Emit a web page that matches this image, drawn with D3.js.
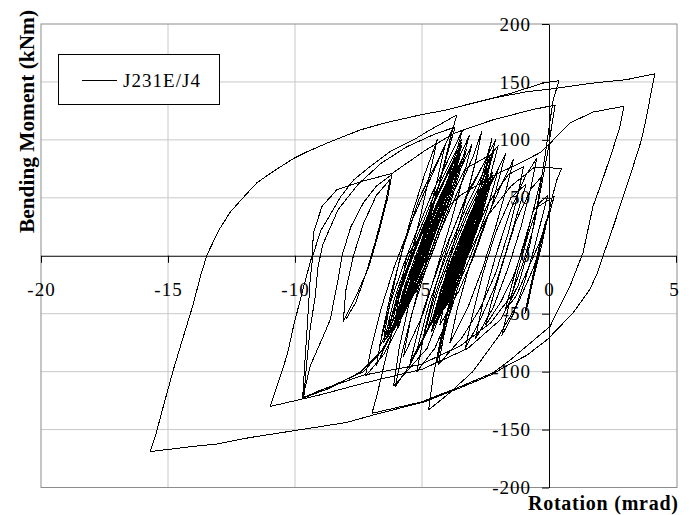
<!DOCTYPE html>
<html>
<head>
<meta charset="utf-8">
<script src="https://cdn.jsdelivr.net/npm/d3@7"></script>
<style>
  body { margin: 0; background: #fff; }
  text { font-family: "Liberation Serif", "Times New Roman", serif; }
</style>
</head>
<body>
<div id="chart"></div>
<script>
// rotation (mrad), moment (kNm) pairs
const xTicks = [-20, -15, -10, -5, 0, 5];
const yTicks = [-200, -150, -100, -50, 0, 50, 100, 150, 200];
const seriesName = "J231E/J4";

const envelopeA = [[4.17,157],[4.04,143],[3.84,120],[3.64,100],[3.31,77],[2.92,51],[2.53,25],[2.13,0],[1.9,-15],[1.61,-29],[0.96,-49],[0.3,-64],[-0.05,-72],[-0.88,-86],[-1.5,-93],[-2.3,-103],[-3.5,-114],[-4.9,-126],[-6.84,-137],[-8.0,-144],[-10.05,-151],[-11.8,-157],[-13.2,-163],[-13.6,-163.5],[-15.7,-169],[-15.5,-156],[-15.16,-128],[-14.77,-97],[-14.37,-68],[-14.05,-45],[-13.7,-16],[-13.46,1],[-13.0,22],[-12.54,38],[-11.88,54],[-11.5,63],[-10.84,73],[-10.05,84],[-9.5,90],[-8.6,98.5],[-7.43,108.6],[-6.4,115],[-5.07,121.5],[-4.02,125.9],[-3.1,131],[-2.2,136],[-0.88,141.6],[0,143.7],[1.73,149],[3.05,152],[4.17,157]];

const envelopeB = [[-3.48,129],[-1.53,140],[-0.24,149],[0.39,151],[0.16,134],[0.0,110],[-0.2,80],[-0.45,45],[-0.75,10],[-1.2,-25],[-1.9,-55],[-3.2,-80],[-5.0,-98],[-7.3,-110],[-9.0,-120],[-10.97,-130],[-10.7,-112],[-10.3,-85],[-10.06,-61],[-9.7,-30],[-9.33,0],[-9.27,20],[-8.94,42.5],[-8.35,57],[-7.4,64],[-6.18,71],[-4.87,91],[-3.7,106],[-2.25,117],[-0.68,126],[0.24,130],[0.1,111],[-0.04,91],[-0.3,60],[-0.6,25],[-1.0,-5],[-1.5,-35],[-2.3,-58],[-3.5,-78],[-5.07,-94],[-7.3,-103],[-9.0,-116],[-9.7,-123],[-9.62,-95],[-9.5,-55],[-9.4,-20],[-9.3,0],[-9.0,21],[-8.2,51],[-7.69,65.5],[-7.04,77],[-6.25,90],[-5.33,100],[-4.68,108.6],[-3.63,121.5],[-3.9,100],[-4.35,60],[-4.9,20],[-5.4,-20],[-5.9,-55],[-6.5,-80],[-7.3,-100],[-8.5,-112],[-9.65,-122],[-9.55,-95],[-9.4,-62],[-9.2,-35],[-9.1,-10],[-8.9,10],[-8.3,40],[-7.5,62],[-6.6,80],[-5.6,94],[-4.5,105],[-3.7,111],[-3.95,92],[-4.4,55],[-4.95,15],[-5.45,-25],[-6.0,-60],[-6.6,-82],[-7.4,-100],[-8.6,-114],[-9.7,-123],[-9.4,-95],[-8.9,-70],[-8.61,-55],[-8.3,-20],[-8.15,0],[-7.8,25],[-7.3,46],[-6.8,60],[-6.19,70],[-6.35,50],[-6.7,20],[-7.1,-10],[-7.6,-35],[-8.1,-57],[-8.0,-30],[-7.7,0],[-7.3,28],[-6.8,52],[-6.25,66],[-6.45,45],[-6.8,15],[-7.2,-15],[-7.6,-40],[-8.0,-55]];

const cycleC = [[-6.97,-136],[-6.78,-121],[-6.5,-95],[-6.1,-60],[-5.85,-30],[-5.6,0],[-4.8,25],[-3.5,52],[-2.3,68],[-1.14,80],[-0.35,89],[0.04,97],[0.83,114.6],[1.73,124],[2.95,129],[2.79,111],[2.5,91],[2.1,65],[1.73,42.5],[1.34,2.6],[0.83,-26],[0.04,-61],[-0.88,-78],[-1.53,-90],[-2.2,-101],[-3.5,-113],[-5.0,-126],[-6.97,-136]];

const cyclesMid = [
  [[-6.05,-113],[-5.8,-85],[-5.4,-50],[-4.9,-15],[-4.3,20],[-3.6,55],[-3.0,85],[-2.65,107],[-2.85,85],[-3.25,50],[-3.7,15],[-4.1,-20],[-4.5,-50],[-4.9,-70],[-5.5,-95],[-6.05,-113]],
  [[-4.74,-133],[-4.56,-104],[-4.25,-70],[-3.8,-35],[-3.2,0],[-2.4,35],[-1.5,60],[-0.6,76],[0.5,75.6],[0.3,65],[0.1,48],[-0.2,20],[-0.6,-10],[-1.2,-40],[-2.0,-70],[-3.0,-100],[-4.0,-120],[-4.74,-133]],
  [[-7.23,-104],[-7.0,-80],[-6.6,-45],[-6.1,-10],[-5.4,30],[-4.6,70],[-3.82,108.6],[-4.0,90],[-4.4,55],[-4.9,15],[-5.4,-25],[-5.9,-60],[-6.5,-85],[-7.23,-104]],
  [[-4.36,-94],[-4.1,-65],[-3.7,-30],[-3.1,10],[-2.4,45],[-1.6,70],[-1.0,77],[-1.2,55],[-1.6,20],[-2.1,-15],[-2.7,-45],[-3.4,-70],[-4.36,-94]],
  [[-3.9,-75],[-3.6,-45],[-3.15,-10],[-2.5,30],[-1.9,60],[-1.4,83],[-1.65,60],[-2.1,25],[-2.6,-10],[-3.2,-45],[-3.9,-75]],
  [[-4.41,-92.5],[-4.15,-60],[-3.75,-25],[-3.25,15],[-2.75,60],[-2.25,101],[-2.5,75],[-2.95,35],[-3.45,-5],[-3.95,-45],[-4.41,-92.5]],
  [[-5.73,-87],[-5.45,-55],[-5.05,-20],[-4.5,20],[-3.8,60],[-3.04,95.7],[-3.35,70],[-3.85,30],[-4.4,-10],[-4.95,-50],[-5.73,-87]],
  [[-6.5,-69.5],[-6.25,-40],[-5.9,-5],[-5.4,35],[-4.9,70],[-4.4,100],[-4.65,75],[-5.05,35],[-5.5,-5],[-5.95,-40],[-6.5,-69.5]],
  [[-6.12,-112.6],[-5.9,-80],[-5.5,-40],[-4.9,0],[-4.1,40],[-3.3,75],[-2.32,87],[-2.6,65],[-3.1,30],[-3.6,-5],[-4.1,-40],[-4.8,-80],[-6.12,-112.6]],
  [[-5.2,-100],[-4.9,-65],[-4.45,-25],[-3.9,15],[-3.2,55],[-2.5,82],[-2.0,95],[-2.3,70],[-2.8,30],[-3.35,-10],[-3.9,-50],[-4.5,-80],[-5.2,-100]],
  [[-3.3,-80],[-3.0,-50],[-2.6,-15],[-2.1,20],[-1.5,50],[-0.9,62],[-1.2,40],[-1.6,10],[-2.1,-25],[-2.7,-55],[-3.3,-80]],
  [[-6.8,-95],[-6.55,-65],[-6.2,-30],[-5.7,10],[-5.1,50],[-4.1,95],[-4.35,70],[-4.8,30],[-5.3,-10],[-5.85,-50],[-6.8,-95]],
  [[-2.5,-60],[-2.2,-35],[-1.8,-5],[-1.3,30],[-0.7,58],[-0.3,68],[-0.55,45],[-0.9,15],[-1.35,-15],[-1.9,-40],[-2.5,-60]]
];

const cyclesRight = [
  [[-1.86,-69],[-1.6,-45],[-1.25,-15],[-0.8,20],[-0.4,45],[-0.05,52],[-0.25,35],[-0.6,5],[-1.0,-25],[-1.4,-50],[-1.86,-69]],
  [[-0.9,-48],[-0.75,-30],[-0.55,-10],[-0.3,15],[-0.12,30],[-0.35,10],[-0.6,-15],[-0.8,-35],[-0.9,-48]],
  [[-0.85,-44],[-0.7,-28],[-0.5,-8],[-0.25,18],[-0.1,28],[-0.3,8],[-0.55,-14],[-0.75,-32],[-0.85,-44]],
  [[-0.95,-50],[-0.78,-32],[-0.58,-12],[-0.35,12],[-0.18,24],[-0.4,5],[-0.62,-18],[-0.82,-38],[-0.95,-50]],
  [[-1.73,-47],[-1.4,-20],[-1.0,10],[-0.6,40],[0.2,51],[0.0,35],[-0.4,10],[-0.9,-15],[-1.3,-35],[-1.73,-47]],
  [[-2.9,-72],[-2.6,-40],[-2.1,0],[-1.5,40],[-0.9,70],[-0.48,84],[-0.7,60],[-1.1,25],[-1.6,-10],[-2.2,-45],[-2.9,-72]]
];

const clusterLeft = [
  [[-6.05,-60],[-5.69,-30],[-5.2,0],[-4.42,42],[-3.51,85],[-4.1,42],[-4.8,0],[-5.37,-30],[-6.05,-60]],
  [[-6.33,-70],[-5.91,-35],[-5.35,0],[-4.47,48],[-3.44,95],[-4.07,48],[-4.85,0],[-5.51,-35],[-6.33,-70]],
  [[-5.86,-55],[-5.52,-28],[-5.08,0],[-4.34,40],[-3.5,80],[-4.06,40],[-4.72,0],[-5.24,-28],[-5.86,-55]],
  [[-6.51,-75],[-6.1,-38],[-5.5,0],[-4.57,50],[-3.45,100],[-4.09,50],[-4.9,0],[-5.62,-38],[-6.51,-75]],
  [[-6.14,-62],[-5.75,-31],[-5.25,0],[-4.44,44],[-3.51,88],[-4.12,44],[-4.85,0],[-5.43,-31],[-6.14,-62]],
  [[-5.73,-50],[-5.47,-25],[-5.07,0],[-4.22,46],[-3.24,92],[-3.87,46],[-4.63,0],[-5.11,-25],[-5.73,-50]],
  [[-6.7,-80],[-6.24,-40],[-5.6,0],[-4.6,54],[-3.41,108],[-4.12,54],[-5.0,0],[-5.76,-40],[-6.7,-80]],
  [[-6.16,-66],[-5.71,-33],[-5.16,0],[-4.45,39],[-3.64,78],[-4.19,39],[-4.84,0],[-5.45,-33],[-6.16,-66]],
  [[-6.41,-72],[-5.97,-36],[-5.39,0],[-4.48,49],[-3.44,98],[-4.1,49],[-4.91,0],[-5.59,-36],[-6.41,-72]],
  [[-5.97,-58],[-5.66,-29],[-5.2,0],[-4.24,52],[-3.13,104],[-3.84,52],[-4.7,0],[-5.31,-29],[-5.97,-58]],
  [[-5.84,-45],[-5.54,-22],[-5.17,0],[-4.62,30],[-4.0,60],[-4.43,30],[-4.93,0],[-5.34,-22],[-5.84,-45]],
  [[-5.65,-40],[-5.38,-20],[-5.05,0],[-4.46,32],[-3.81,65],[-4.3,32],[-4.85,0],[-5.22,-20],[-5.65,-40]],
  [[-5.98,-50],[-5.66,-25],[-5.25,0],[-4.61,35],[-3.88,70],[-4.37,35],[-4.95,0],[-5.42,-25],[-5.98,-50]],
  [[-5.99,-62],[-5.6,-31],[-5.1,0],[-4.4,38],[-3.59,75],[-4.08,38],[-4.7,0],[-5.28,-31],[-5.99,-62]],
  [[-5.61,-35],[-5.39,-18],[-5.1,0],[-4.6,28],[-4.04,55],[-4.44,28],[-4.9,0],[-5.23,-18],[-5.61,-35]],
  [[-6.34,-65],[-5.95,-32],[-5.42,0],[-4.66,41],[-3.77,82],[-4.3,41],[-4.98,0],[-5.59,-32],[-6.34,-65]]
];

const clusterRight = [
  [[-4.57,-58],[-4.22,-29],[-3.75,0],[-3.12,34],[-2.38,67],[-2.8,34],[-3.35,0],[-3.9,-29],[-4.57,-58]],
  [[-4.36,-52],[-4.03,-26],[-3.6,0],[-3.03,31],[-2.37,62],[-2.79,31],[-3.3,0],[-3.79,-26],[-4.36,-52]],
  [[-4.79,-65],[-4.4,-32],[-3.87,0],[-3.2,36],[-2.39,72],[-2.84,36],[-3.43,0],[-4.04,-32],[-4.79,-65]],
  [[-4.34,-48],[-4.02,-24],[-3.62,0],[-3.09,29],[-2.49,58],[-2.89,29],[-3.38,0],[-3.82,-24],[-4.34,-48]],
  [[-4.65,-60],[-4.27,-30],[-3.78,0],[-3.13,35],[-2.38,70],[-2.85,35],[-3.42,0],[-3.98,-30],[-4.65,-60]],
  [[-4.36,-55],[-4.04,-28],[-3.6,0],[-3.0,32],[-2.28,64],[-2.68,32],[-3.2,0],[-3.72,-28],[-4.36,-55]],
  [[-4.93,-70],[-4.51,-35],[-3.95,0],[-3.22,39],[-2.34,78],[-2.82,39],[-3.45,0],[-4.11,-35],[-4.93,-70]],
  [[-4.59,-62],[-4.17,-31],[-3.66,0],[-3.05,33],[-2.35,66],[-2.79,33],[-3.34,0],[-3.91,-31],[-4.59,-62]],
  [[-4.09,-45],[-3.87,-22],[-3.52,0],[-2.82,38],[-1.99,75],[-2.46,38],[-3.08,0],[-3.51,-22],[-4.09,-45]],
  [[-5.24,-85],[-4.73,-42],[-4.05,0],[-3.2,45],[-2.18,90],[-2.72,45],[-3.45,0],[-4.25,-42],[-5.24,-85]],
  [[-4.6,-56],[-4.22,-28],[-3.76,0],[-3.21,30],[-2.57,60],[-2.98,30],[-3.48,0],[-4.0,-28],[-4.6,-56]],
  [[-4.64,-66],[-4.22,-33],[-3.68,0],[-3.01,36],[-2.22,72],[-2.69,36],[-3.28,0],[-3.9,-33],[-4.64,-66]],
  [[-4.3,-60],[-4.01,-30],[-3.55,0],[-2.72,44],[-1.71,88],[-2.24,44],[-2.95,0],[-3.54,-30],[-4.3,-60]],
  [[-5.46,-92],[-4.94,-46],[-4.2,0],[-3.26,50],[-2.1,100],[-2.7,50],[-3.5,0],[-4.37,-46],[-5.46,-92]],
  [[-4.25,-40],[-3.98,-20],[-3.65,0],[-3.19,25],[-2.68,50],[-3.03,25],[-3.45,0],[-3.82,-20],[-4.25,-40]],
  [[-4.33,-50],[-3.99,-25],[-3.57,0],[-3.07,28],[-2.49,55],[-2.87,28],[-3.33,0],[-3.79,-25],[-4.33,-50]],
  [[-4.39,-45],[-4.07,-22],[-3.7,0],[-3.16,30],[-2.55,60],[-2.99,30],[-3.5,0],[-3.91,-22],[-4.39,-45]],
  [[-4.42,-58],[-4.03,-29],[-3.55,0],[-2.92,34],[-2.21,68],[-2.68,34],[-3.25,0],[-3.79,-29],[-4.42,-58]],
  [[-4.11,-35],[-3.87,-18],[-3.58,0],[-3.17,22],[-2.71,45],[-3.05,22],[-3.42,0],[-3.75,-18],[-4.11,-35]],
  [[-4.51,-52],[-4.18,-26],[-3.75,0],[-3.15,32],[-2.46,65],[-2.91,32],[-3.45,0],[-3.94,-26],[-4.51,-52]],
  [[-4.16,-42],[-3.89,-21],[-3.54,0],[-2.98,31],[-2.34,62],[-2.78,31],[-3.3,0],[-3.69,-21],[-4.16,-42]],
  [[-4.39,-48],[-4.05,-24],[-3.65,0],[-3.15,28],[-2.59,55],[-2.99,28],[-3.45,0],[-3.89,-24],[-4.39,-48]]
];

let width = 690, height = 515;
let plotLeft = 41, plotRight = 676, plotTop = 24, plotBottom = 487.5;

let svg = d3.select("#chart").append("svg")
    .attr("width", width)
    .attr("height", height);

svg.append("rect").attr("width", width).attr("height", height).attr("fill", "#fff");

let x = d3.scaleLinear().domain([-20, 5]).range([plotLeft, plotRight]);
let y = d3.scaleLinear().domain([-200, 200]).range([plotBottom, plotTop]);

// grid
svg.append("g").selectAll("line")
  .data(xTicks.filter(d => d > -20 && d < 5 && d != 0))
  .enter().append("line")
    .attr("x1", d => x(d)).attr("x2", d => x(d))
    .attr("y1", plotTop).attr("y2", plotBottom)
    .attr("stroke", "#c8c8c8");
svg.append("g").selectAll("line")
  .data(yTicks.filter(d => d > -200 && d < 200 && d != 0))
  .enter().append("line")
    .attr("x1", plotLeft).attr("x2", plotRight + 1)
    .attr("y1", d => y(d)).attr("y2", d => y(d))
    .attr("stroke", "#c8c8c8");

svg.append("rect")
    .attr("x", plotLeft).attr("y", plotTop)
    .attr("width", plotRight + 1 - plotLeft).attr("height", plotBottom - plotTop)
    .attr("fill", "none").attr("stroke", "#8c8c8c");

svg.append("clipPath").attr("id", "plot")
  .append("rect").attr("x", plotLeft).attr("y", plotTop)
    .attr("width", plotRight + 1 - plotLeft).attr("height", plotBottom - plotTop);

let line = d3.line().x(d => x(d[0])).y(d => y(d[1]));

let loops = [envelopeA, envelopeB, cycleC]
  .concat(cyclesMid, cyclesRight, clusterLeft, clusterRight);

svg.append("g").attr("clip-path", "url(#plot)")
  .selectAll("path")
  .data(loops)
  .enter().append("path")
    .attr("d", line)
    .attr("fill", "none")
    .attr("stroke", "#000")
    .attr("stroke-width", 1)
    .attr("stroke-linejoin", "round")
    .attr("shape-rendering", "crispEdges");

// axes through the origin
let xAxis = svg.append("g")
    .attr("transform", "translate(0," + y(0) + ")")
    .call(d3.axisBottom(x).tickValues(xTicks).tickFormat(d => String(d))
      .tickSize(7).tickSizeOuter(0).tickPadding(20));
let yAxis = svg.append("g")
    .attr("transform", "translate(" + x(0) + ",0)")
    .call(d3.axisLeft(y).tickValues(yTicks).tickFormat(d => String(d))
      .tickSize(7).tickSizeOuter(0).tickPadding(11));

[xAxis, yAxis].forEach(g => {
  g.attr("font-family", "Liberation Serif, serif").attr("font-size", 19);
  g.selectAll("text").attr("fill", "#000").style("letter-spacing", "1px");
  g.selectAll("line, path").attr("stroke", "#000");
});
xAxis.selectAll("text").filter(d => d == 5).attr("dx", "-2");

svg.append("text")
    .attr("transform", "translate(34,121.5) rotate(-90)")
    .attr("text-anchor", "middle")
    .attr("font-weight", "bold")
    .attr("font-size", 20)
    .attr("textLength", 223)
    .attr("lengthAdjust", "spacingAndGlyphs")
    .text("Bending Moment (kNm)");

svg.append("text")
    .attr("x", 528).attr("y", 510)
    .attr("font-weight", "bold")
    .attr("font-size", 20)
    .attr("textLength", 150)
    .attr("lengthAdjust", "spacing")
    .text("Rotation (mrad)");

// legend
let legend = svg.append("g");
legend.append("rect")
    .attr("x", 58.5).attr("y", 54.5).attr("width", 161).attr("height", 50)
    .attr("fill", "#fff").attr("stroke", "#000");
legend.append("line")
    .attr("x1", 82).attr("x2", 117).attr("y1", 80.5).attr("y2", 80.5)
    .attr("stroke", "#000");
legend.append("text")
    .attr("x", 123).attr("y", 87)
    .attr("font-size", 19)
    .attr("textLength", 77)
    .attr("lengthAdjust", "spacing")
    .text(seriesName);
</script>
</body>
</html>
